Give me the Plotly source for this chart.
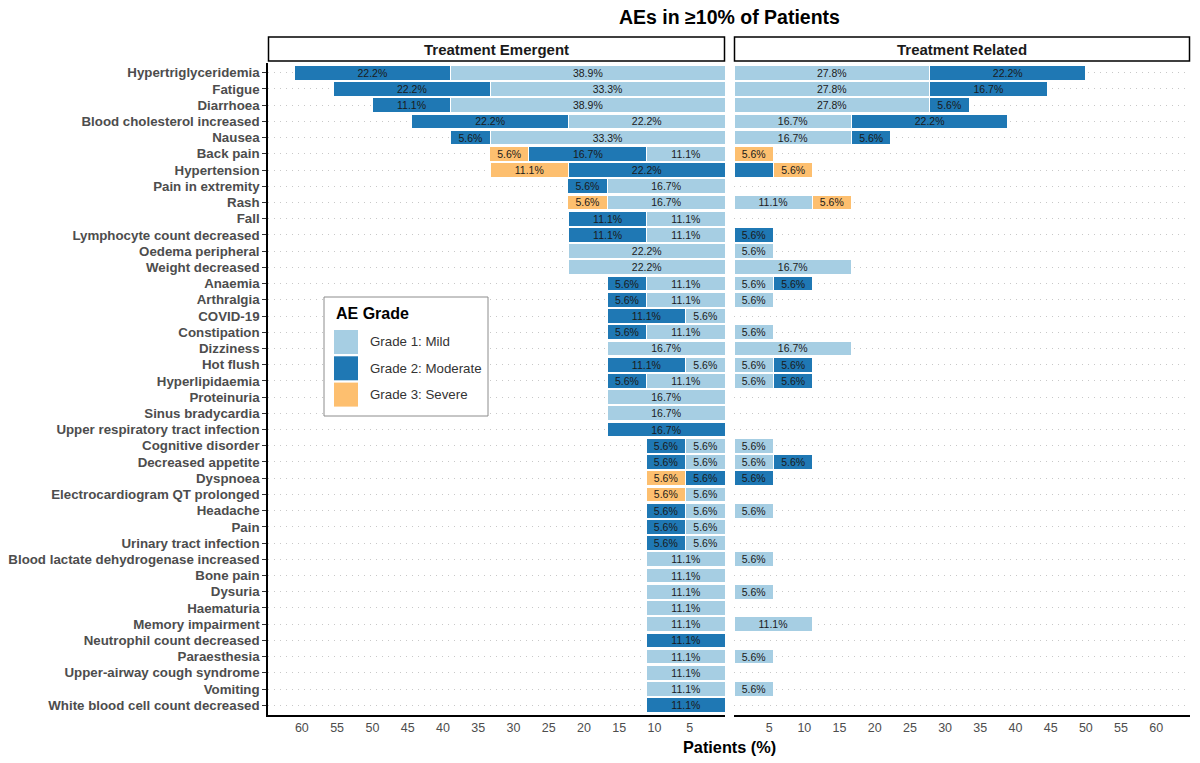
import plotly.graph_objects as go

# ---------------- data ----------------
categories = [
    "Hypertriglyceridemia", "Fatigue", "Diarrhoea", "Blood cholesterol increased", "Nausea",
    "Back pain", "Hypertension", "Pain in extremity", "Rash", "Fall",
    "Lymphocyte count decreased", "Oedema peripheral", "Weight decreased", "Anaemia", "Arthralgia",
    "COVID-19", "Constipation", "Dizziness", "Hot flush", "Hyperlipidaemia",
    "Proteinuria", "Sinus bradycardia", "Upper respiratory tract infection", "Cognitive disorder", "Decreased appetite",
    "Dyspnoea", "Electrocardiogram QT prolonged", "Headache", "Pain", "Urinary tract infection",
    "Blood lactate dehydrogenase increased", "Bone pain", "Dysuria", "Haematuria", "Memory impairment",
    "Neutrophil count decreased", "Paraesthesia", "Upper-airway cough syndrome", "Vomiting", "White blood cell count decreased",
]

# Treatment Emergent (%)
te_grade1 = [38.9, 33.3, 38.9, 22.2, 33.3, 11.1, 0, 16.7, 16.7, 11.1,
             11.1, 22.2, 22.2, 11.1, 11.1, 5.6, 11.1, 16.7, 5.6, 11.1,
             16.7, 16.7, 0, 5.6, 5.6, 0, 5.6, 5.6, 5.6, 5.6,
             11.1, 11.1, 11.1, 11.1, 11.1, 0, 11.1, 11.1, 11.1, 0]
te_grade2 = [22.2, 22.2, 11.1, 22.2, 5.6, 16.7, 22.2, 5.6, 0, 11.1,
             11.1, 0, 0, 5.6, 5.6, 11.1, 5.6, 0, 11.1, 5.6,
             0, 0, 16.7, 5.6, 5.6, 5.6, 0, 5.6, 5.6, 5.6,
             0, 0, 0, 0, 0, 11.1, 0, 0, 0, 11.1]
te_grade3 = [0, 0, 0, 0, 0, 5.6, 11.1, 0, 5.6, 0,
             0, 0, 0, 0, 0, 0, 0, 0, 0, 0,
             0, 0, 0, 0, 0, 5.6, 5.6, 0, 0, 0,
             0, 0, 0, 0, 0, 0, 0, 0, 0, 0]

# Treatment Related (%)
tr_grade1 = [27.8, 27.8, 27.8, 16.7, 16.7, 0, 0, 0, 11.1, 0,
             0, 5.6, 16.7, 5.6, 5.6, 0, 5.6, 16.7, 5.6, 5.6,
             0, 0, 0, 5.6, 5.6, 0, 0, 5.6, 0, 0,
             5.6, 0, 5.6, 0, 11.1, 0, 5.6, 0, 5.6, 0]
tr_grade2 = [22.2, 16.7, 5.6, 22.2, 5.6, 0, 5.6, 0, 0, 0,
             5.6, 0, 0, 5.6, 0, 0, 0, 0, 5.6, 5.6,
             0, 0, 0, 0, 5.6, 5.6, 0, 0, 0, 0,
             0, 0, 0, 0, 0, 0, 0, 0, 0, 0]
tr_grade3 = [0, 0, 0, 0, 0, 5.6, 5.6, 0, 5.6, 0,
             0, 0, 0, 0, 0, 0, 0, 0, 0, 0,
             0, 0, 0, 0, 0, 0, 0, 0, 0, 0,
             0, 0, 0, 0, 0, 0, 0, 0, 0, 0]

grade_names = ["Grade 1: Mild", "Grade 2: Moderate", "Grade 3: Severe"]
grade_colors = ["#a6cee3", "#1f78b4", "#fdbf6f"]
panel_titles = ["Treatment Emergent", "Treatment Related"]
x_ticks = [5, 10, 15, 20, 25, 30, 35, 40, 45, 50, 55, 60]
# labels not printed in the reference
hidden_labels = {("Treatment Related", "Hypertension", "Grade 2: Moderate")}

# ---------------- layout helpers ----------------
W, H = 1200, 763
FONT = "Liberation Sans"
def px(x): return x / W
def py(y): return 1 - y / H

LEFT = (268, 725)
RIGHT = (734, 1190)
TOP, BOTTOM = 63, 715
XMAX = 64.8

fig = go.Figure()

panels = [
    (panel_titles[0], [te_grade1, te_grade2, te_grade3], "x", "y"),
    (panel_titles[1], [tr_grade1, tr_grade2, tr_grade3], "x2", "y2"),
]
for ptitle, series, xa, ya in panels:
    for gname, gcol, vals in zip(grade_names, grade_colors, series):
        xs = [v if v else None for v in vals]
        texts = []
        for c, v in zip(categories, vals):
            if not v or (ptitle, c, gname) in hidden_labels:
                texts.append("")
            else:
                texts.append(f"{v:.1f}%")
        fig.add_trace(go.Bar(
            y=categories, x=xs, orientation="h", name=gname,
            marker=dict(color=gcol, line=dict(color="white", width=1)),
            text=texts, textposition="inside", insidetextanchor="middle",
            textangle=0, insidetextfont=dict(size=10.5, color="#1a1a1a", family=FONT),
            xaxis=xa, yaxis=ya, showlegend=False, hoverinfo="x+y+name",
        ))

grid = dict(showgrid=True, gridcolor="#c8c8c8", gridwidth=1, griddash="1px,5px")
fig.update_layout(
    width=W, height=H, margin=dict(l=0, r=0, t=0, b=0),
    paper_bgcolor="white", plot_bgcolor="white",
    barmode="stack", bargap=0.09,
    uniformtext=dict(minsize=10.5, mode="show"),
    font=dict(family=FONT, color="#4d4d4d"),
    xaxis=dict(domain=[px(LEFT[0]), px(LEFT[1])], anchor="y", range=[XMAX, 0],
               tickvals=x_ticks, ticks="", showgrid=False, zeroline=False,
               showline=True, linecolor="black", linewidth=1.5,
               tickfont=dict(size=12.5, color="#4d4d4d"), automargin=False),
    xaxis2=dict(domain=[px(RIGHT[0]), px(RIGHT[1])], anchor="y2", range=[0, XMAX],
                tickvals=x_ticks, ticks="", showgrid=False, zeroline=False,
                showline=True, linecolor="black", linewidth=1.5,
                tickfont=dict(size=12.5, color="#4d4d4d"), automargin=False),
    yaxis=dict(domain=[py(BOTTOM), py(TOP)], anchor="x", type="category",
               categoryorder="array", categoryarray=categories,
               range=[len(categories) - 0.4, -0.6],
               showline=True, linecolor="black", linewidth=1.5,
               ticks="outside", ticklen=4, tickcolor="#333333", tickwidth=1,
               tickfont=dict(size=13.3, color="#4d4d4d", family=FONT, weight="bold"),
               zeroline=False, automargin=False, **grid),
    yaxis2=dict(domain=[py(BOTTOM), py(TOP)], anchor="x2", matches="y", type="category",
                showticklabels=False, ticks="", showline=False,
                zeroline=False, automargin=False, **grid),
)

shapes = []
annotations = []
# strip boxes
for (x0, x1), t in zip([LEFT, RIGHT], panel_titles):
    shapes.append(dict(type="rect", xref="paper", yref="paper",
                       x0=px(x0 + 0.5), x1=px(x1 - 0.5), y0=py(61), y1=py(37),
                       line=dict(color="black", width=1.5), fillcolor="white"))
    annotations.append(dict(xref="paper", yref="paper", x=px((x0 + x1) / 2), y=py(49),
                            text=f"<b>{t}</b>", showarrow=False,
                            font=dict(size=15, color="#1a1a1a", family=FONT),
                            xanchor="center", yanchor="middle"))
# title & axis title
annotations.append(dict(xref="paper", yref="paper", x=px(730), y=py(17),
                        text="<b>AEs in ≥10% of Patients</b>", showarrow=False,
                        font=dict(size=19.5, color="black", family=FONT),
                        xanchor="center", yanchor="middle"))
annotations.append(dict(xref="paper", yref="paper", x=px(729), y=py(747),
                        text="<b>Patients (%)</b>", showarrow=False,
                        font=dict(size=16.3, color="black", family=FONT),
                        xanchor="center", yanchor="middle"))
# legend
shapes.append(dict(type="rect", xref="paper", yref="paper",
                   x0=px(324), x1=px(488), y0=py(416), y1=py(297),
                   line=dict(color="#8c8c8c", width=1), fillcolor="white"))
annotations.append(dict(xref="paper", yref="paper", x=px(334), y=py(314),
                        text="<b>AE Grade</b>", showarrow=False,
                        font=dict(size=16, color="black", family=FONT),
                        xanchor="left", yanchor="middle"))
for i, (gname, gcol) in enumerate(zip(grade_names, grade_colors)):
    top = 330 + i * 26.3
    shapes.append(dict(type="rect", xref="paper", yref="paper",
                       x0=px(334), x1=px(358), y0=py(top + 24), y1=py(top),
                       line=dict(width=0), fillcolor=gcol))
    annotations.append(dict(xref="paper", yref="paper", x=px(368), y=py(top + 12),
                            text=gname, showarrow=False,
                            font=dict(size=13.3, color="#333333", family=FONT),
                            xanchor="left", yanchor="middle"))

fig.update_layout(shapes=shapes, annotations=annotations)
fig.write_html("out.html")
